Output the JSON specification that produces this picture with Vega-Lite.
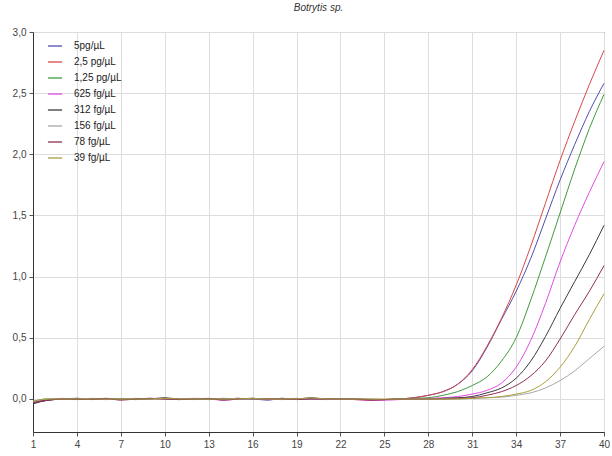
{
  "$schema": "https://vega.github.io/schema/vega-lite/v6.json",
  "width": 571,
  "height": 400,
  "autosize": {"type": "none"},
  "padding": {"left": 33, "top": 32, "right": 8, "bottom": 24},
  "background": "white",
  "config": {
    "font": "Liberation Sans",
    "view": {"stroke": "#333333", "strokeWidth": 1}
  },
  "title": {"text": "Botrytis sp.", "fontStyle": "italic", "fontWeight": "normal", "fontSize": 10, "color": "#333333", "offset": 14, "anchor": "middle"},
  "data": {"values": [
    {"c":1,"5pg/µL":-0.02,"2,5 pg/µL":-0.03,"1,25 pg/µL":-0.02,"625 fg/µL":-0.03,"312 fg/µL":-0.04,"156 fg/µL":-0.02,"78 fg/µL":-0.03,"39 fg/µL":-0.02},
    {"c":2,"5pg/µL":-0.01,"2,5 pg/µL":-0.01,"1,25 pg/µL":0.0,"625 fg/µL":-0.01,"312 fg/µL":-0.01,"156 fg/µL":0.0,"78 fg/µL":-0.01,"39 fg/µL":0.0},
    {"c":3,"5pg/µL":0.0,"2,5 pg/µL":0.0,"1,25 pg/µL":0.0,"625 fg/µL":0.005,"312 fg/µL":0.0,"156 fg/µL":0.0,"78 fg/µL":0.0,"39 fg/µL":0.0},
    {"c":4,"5pg/µL":0.005,"2,5 pg/µL":0.0,"1,25 pg/µL":0.0,"625 fg/µL":0.0,"312 fg/µL":0.005,"156 fg/µL":0.0,"78 fg/µL":-0.005,"39 fg/µL":0.0},
    {"c":5,"5pg/µL":0.0,"2,5 pg/µL":-0.005,"1,25 pg/µL":0.0,"625 fg/µL":0.0,"312 fg/µL":0.0,"156 fg/µL":0.005,"78 fg/µL":0.0,"39 fg/µL":0.0},
    {"c":6,"5pg/µL":-0.005,"2,5 pg/µL":0.0,"1,25 pg/µL":0.005,"625 fg/µL":0.0,"312 fg/µL":0.0,"156 fg/µL":0.0,"78 fg/µL":0.005,"39 fg/µL":0.0},
    {"c":7,"5pg/µL":0.0,"2,5 pg/µL":0.0,"1,25 pg/µL":0.0,"625 fg/µL":-0.005,"312 fg/µL":0.0,"156 fg/µL":0.0,"78 fg/µL":-0.01,"39 fg/µL":0.0},
    {"c":8,"5pg/µL":0.0,"2,5 pg/µL":0.005,"1,25 pg/µL":0.0,"625 fg/µL":0.0,"312 fg/µL":-0.005,"156 fg/µL":0.0,"78 fg/µL":0.0,"39 fg/µL":0.0},
    {"c":9,"5pg/µL":0.005,"2,5 pg/µL":0.0,"1,25 pg/µL":0.0,"625 fg/µL":0.005,"312 fg/µL":0.0,"156 fg/µL":0.0,"78 fg/µL":0.005,"39 fg/µL":0.0},
    {"c":10,"5pg/µL":0.0,"2,5 pg/µL":0.0,"1,25 pg/µL":0.005,"625 fg/µL":0.0,"312 fg/µL":0.01,"156 fg/µL":0.0,"78 fg/µL":0.0,"39 fg/µL":0.005},
    {"c":11,"5pg/µL":-0.005,"2,5 pg/µL":0.0,"1,25 pg/µL":0.0,"625 fg/µL":0.0,"312 fg/µL":0.0,"156 fg/µL":0.0,"78 fg/µL":-0.005,"39 fg/µL":0.0},
    {"c":12,"5pg/µL":0.0,"2,5 pg/µL":-0.005,"1,25 pg/µL":0.0,"625 fg/µL":0.005,"312 fg/µL":0.0,"156 fg/µL":0.0,"78 fg/µL":0.0,"39 fg/µL":0.0},
    {"c":13,"5pg/µL":0.0,"2,5 pg/µL":0.0,"1,25 pg/µL":0.0,"625 fg/µL":0.0,"312 fg/µL":-0.005,"156 fg/µL":0.0,"78 fg/µL":0.005,"39 fg/µL":0.0},
    {"c":14,"5pg/µL":0.005,"2,5 pg/µL":0.0,"1,25 pg/µL":-0.005,"625 fg/µL":-0.01,"312 fg/µL":0.0,"156 fg/µL":0.0,"78 fg/µL":-0.01,"39 fg/µL":0.0},
    {"c":15,"5pg/µL":0.0,"2,5 pg/µL":0.005,"1,25 pg/µL":0.0,"625 fg/µL":0.0,"312 fg/µL":0.005,"156 fg/µL":0.005,"78 fg/µL":0.0,"39 fg/µL":0.0},
    {"c":16,"5pg/µL":0.0,"2,5 pg/µL":0.0,"1,25 pg/µL":0.005,"625 fg/µL":0.005,"312 fg/µL":0.0,"156 fg/µL":0.0,"78 fg/µL":0.005,"39 fg/µL":0.005},
    {"c":17,"5pg/µL":-0.01,"2,5 pg/µL":0.0,"1,25 pg/µL":0.0,"625 fg/µL":-0.005,"312 fg/µL":0.0,"156 fg/µL":0.0,"78 fg/µL":0.0,"39 fg/µL":0.0},
    {"c":18,"5pg/µL":0.005,"2,5 pg/µL":-0.005,"1,25 pg/µL":0.0,"625 fg/µL":0.0,"312 fg/µL":0.005,"156 fg/µL":0.0,"78 fg/µL":0.0,"39 fg/µL":0.0},
    {"c":19,"5pg/µL":0.0,"2,5 pg/µL":0.0,"1,25 pg/µL":0.0,"625 fg/µL":0.005,"312 fg/µL":0.0,"156 fg/µL":0.0,"78 fg/µL":-0.005,"39 fg/µL":0.0},
    {"c":20,"5pg/µL":0.0,"2,5 pg/µL":0.005,"1,25 pg/µL":0.005,"625 fg/µL":0.0,"312 fg/µL":0.01,"156 fg/µL":0.0,"78 fg/µL":0.0,"39 fg/µL":0.01},
    {"c":21,"5pg/µL":-0.005,"2,5 pg/µL":0.0,"1,25 pg/µL":0.0,"625 fg/µL":0.0,"312 fg/µL":0.0,"156 fg/µL":0.0,"78 fg/µL":0.0,"39 fg/µL":0.0},
    {"c":22,"5pg/µL":0.0,"2,5 pg/µL":0.0,"1,25 pg/µL":0.0,"625 fg/µL":0.0,"312 fg/µL":0.0,"156 fg/µL":0.0,"78 fg/µL":0.0,"39 fg/µL":0.0},
    {"c":23,"5pg/µL":0.0,"2,5 pg/µL":-0.005,"1,25 pg/µL":0.0,"625 fg/µL":-0.005,"312 fg/µL":0.0,"156 fg/µL":0.0,"78 fg/µL":0.0,"39 fg/µL":0.0},
    {"c":24,"5pg/µL":-0.005,"2,5 pg/µL":-0.01,"1,25 pg/µL":-0.005,"625 fg/µL":-0.01,"312 fg/µL":-0.005,"156 fg/µL":0.0,"78 fg/µL":-0.01,"39 fg/µL":0.0},
    {"c":25,"5pg/µL":-0.005,"2,5 pg/µL":-0.005,"1,25 pg/µL":-0.005,"625 fg/µL":-0.01,"312 fg/µL":-0.005,"156 fg/µL":-0.005,"78 fg/µL":-0.005,"39 fg/µL":0.0},
    {"c":26,"5pg/µL":0.0,"2,5 pg/µL":0.0,"1,25 pg/µL":0.0,"625 fg/µL":-0.005,"312 fg/µL":0.0,"156 fg/µL":0.0,"78 fg/µL":0.0,"39 fg/µL":0.0},
    {"c":27,"5pg/µL":0.01,"2,5 pg/µL":0.01,"1,25 pg/µL":0.005,"625 fg/µL":0.0,"312 fg/µL":0.0,"156 fg/µL":0.0,"78 fg/µL":0.0,"39 fg/µL":0.0},
    {"c":28,"5pg/µL":0.03,"2,5 pg/µL":0.03,"1,25 pg/µL":0.01,"625 fg/µL":0.005,"312 fg/µL":0.0,"156 fg/µL":0.0,"78 fg/µL":0.0,"39 fg/µL":0.0},
    {"c":29,"5pg/µL":0.06,"2,5 pg/µL":0.06,"1,25 pg/µL":0.03,"625 fg/µL":0.01,"312 fg/µL":0.005,"156 fg/µL":0.0,"78 fg/µL":0.0,"39 fg/µL":0.0},
    {"c":30,"5pg/µL":0.12,"2,5 pg/µL":0.12,"1,25 pg/µL":0.06,"625 fg/µL":0.02,"312 fg/µL":0.01,"156 fg/µL":0.0,"78 fg/µL":0.005,"39 fg/µL":0.0},
    {"c":31,"5pg/µL":0.23,"2,5 pg/µL":0.24,"1,25 pg/µL":0.11,"625 fg/µL":0.04,"312 fg/µL":0.02,"156 fg/µL":0.005,"78 fg/µL":0.01,"39 fg/µL":0.005},
    {"c":32,"5pg/µL":0.42,"2,5 pg/µL":0.43,"1,25 pg/µL":0.18,"625 fg/µL":0.07,"312 fg/µL":0.05,"156 fg/µL":0.01,"78 fg/µL":0.03,"39 fg/µL":0.01},
    {"c":33,"5pg/µL":0.65,"2,5 pg/µL":0.66,"1,25 pg/µL":0.31,"625 fg/µL":0.13,"312 fg/µL":0.09,"156 fg/µL":0.015,"78 fg/µL":0.06,"39 fg/µL":0.02},
    {"c":34,"5pg/µL":0.88,"2,5 pg/µL":0.93,"1,25 pg/µL":0.5,"625 fg/µL":0.26,"312 fg/µL":0.17,"156 fg/µL":0.03,"78 fg/µL":0.11,"39 fg/µL":0.04},
    {"c":35,"5pg/µL":1.15,"2,5 pg/µL":1.25,"1,25 pg/µL":0.81,"625 fg/µL":0.48,"312 fg/µL":0.31,"156 fg/µL":0.05,"78 fg/µL":0.19,"39 fg/µL":0.07},
    {"c":36,"5pg/µL":1.47,"2,5 pg/µL":1.6,"1,25 pg/µL":1.16,"625 fg/µL":0.78,"312 fg/µL":0.51,"156 fg/µL":0.09,"78 fg/µL":0.31,"39 fg/µL":0.14},
    {"c":37,"5pg/µL":1.79,"2,5 pg/µL":1.95,"1,25 pg/µL":1.52,"625 fg/µL":1.12,"312 fg/µL":0.74,"156 fg/µL":0.15,"78 fg/µL":0.49,"39 fg/µL":0.26},
    {"c":38,"5pg/µL":2.08,"2,5 pg/µL":2.27,"1,25 pg/µL":1.88,"625 fg/µL":1.42,"312 fg/µL":0.96,"156 fg/µL":0.23,"78 fg/µL":0.69,"39 fg/µL":0.43},
    {"c":39,"5pg/µL":2.35,"2,5 pg/µL":2.57,"1,25 pg/µL":2.21,"625 fg/µL":1.69,"312 fg/µL":1.18,"156 fg/µL":0.33,"78 fg/µL":0.88,"39 fg/µL":0.65},
    {"c":40,"5pg/µL":2.58,"2,5 pg/µL":2.85,"1,25 pg/µL":2.49,"625 fg/µL":1.94,"312 fg/µL":1.42,"156 fg/µL":0.43,"78 fg/µL":1.09,"39 fg/µL":0.86}
  ]},
  "transform": [
    {"fold": ["5pg/µL","2,5 pg/µL","1,25 pg/µL","625 fg/µL","312 fg/µL","156 fg/µL","78 fg/µL","39 fg/µL"], "as": ["series","value"]}
  ],
  "mark": {"type": "line", "strokeWidth": 1, "interpolate": "monotone"},
  "encoding": {
    "x": {"field": "c", "type": "quantitative",
      "scale": {"domain": [1, 40], "nice": false, "zero": false},
      "axis": {"title": null, "values": [1,4,7,10,13,16,19,22,25,28,31,34,37,40], "grid": true, "gridColor": "#dddddd", "domain": true, "domainColor": "#333333", "tickColor": "#555555", "tickSize": 4, "labelFontSize": 10, "labelColor": "#444444", "labelPadding": 3, "labelFlush": false}},
    "y": {"field": "value", "type": "quantitative",
      "scale": {"domain": [-0.27, 3.0], "nice": false, "zero": false},
      "axis": {"title": null, "values": [0,0.5,1,1.5,2,2.5,3], "grid": true, "gridColor": "#dddddd", "domain": true, "domainColor": "#333333", "tickColor": "#555555", "tickSize": 4, "labelFontSize": 10, "labelColor": "#444444", "labelPadding": 3, "labelExpr": "replace(format(datum.value, '.1f'), '.', ',')"}},
    "color": {"field": "series", "type": "nominal",
      "scale": {"domain": ["5pg/µL","2,5 pg/µL","1,25 pg/µL","625 fg/µL","312 fg/µL","156 fg/µL","78 fg/µL","39 fg/µL"],
                "range": ["#4f4fb0","#d84848","#3f9a3f","#e04de0","#3a3a3a","#a8a8a8","#8c2f55","#a8a03c"]},
      "sort": null,
      "legend": {"title": null, "orient": "none", "legendX": 14, "legendY": 6, "symbolType": "stroke", "symbolSize": 200, "symbolStrokeWidth": 1.3, "labelFontSize": 10, "labelColor": "#222222", "rowPadding": 3, "labelOffset": 11, "fillColor": null, "strokeColor": null}}
  }
}
